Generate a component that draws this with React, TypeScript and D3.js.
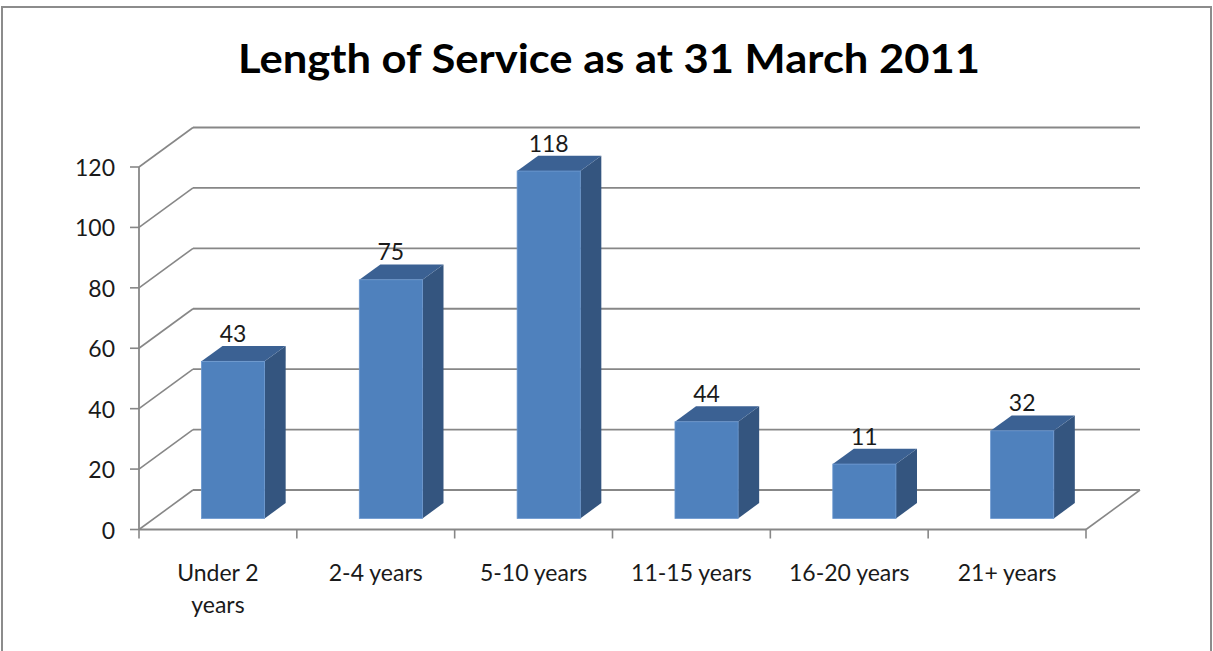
import React from "react";
import * as d3 from "d3";

const title = "Length of Service as at 31 March 2011";
const categories = ["Under 2 years", "2-4 years", "5-10 years", "11-15 years", "16-20 years", "21+ years"];
const categoryLines = [["Under 2", "years"], ["2-4 years"], ["5-10 years"], ["11-15 years"], ["16-20 years"], ["21+ years"]];
// bar heights as drawn against the value axis
const barValues = [52, 79, 115, 32, 18, 29];
// data labels as printed above the bars
const labelValues = [43, 75, 118, 44, 11, 32];
const yTicks = [0, 20, 40, 60, 80, 100, 120];

const FONT = "Lato, 'Open Sans', sans-serif";

export default function App() {
  const W = 1213, H = 651;
  const x0 = 139, x1 = 1086;
  const depthX = 54, depthY = -39.5;
  const x = d3.scaleBand<string>().domain(categories).range([x0, x1]).padding(0);
  const y = d3.scaleLinear().domain([0, 120]).range([529.5, 167]);
  const bw = x.bandwidth();
  const barW = bw * 0.4;
  const fFront = 0.28, fBack = 0.67;
  const gridColor = "#878787";
  const textColor = "#1a1a1a";

  const boundaries = categories.map((c) => x(c)!).concat([x1]);

  return (
    <svg width={W} height={H} style={{ position: "absolute", left: 0, top: 0, background: "#fff" }}>
      <rect x={2} y={7} width={1209} height={700} fill="#fff" stroke="#8c8c8c" strokeWidth={2} />
      <text x={609} y={73} textAnchor="middle" fontFamily={FONT} fontWeight="bold" fontSize={41}
        textLength={742} lengthAdjust="spacingAndGlyphs" fill="#000">{title}</text>

      {/* back wall gridlines + left wall diagonals */}
      {yTicks.map((t) => (
        <g key={t}>
          <line x1={x0 + depthX} x2={x1 + depthX} y1={y(t) + depthY} y2={y(t) + depthY} stroke={gridColor} strokeWidth={1.8} />
          <line x1={x0} y1={y(t)} x2={x0 + depthX} y2={y(t) + depthY} stroke={gridColor} strokeWidth={1.6} />
          <line x1={130} x2={x0} y1={y(t)} y2={y(t)} stroke={gridColor} strokeWidth={1.6} />
          <text x={115} y={y(t) + 9} textAnchor="end" fontFamily={FONT} fontSize={23} fill={textColor}>{t}</text>
        </g>
      ))}
      {/* floor */}
      <line x1={x0} x2={x1} y1={y(0)} y2={y(0)} stroke={gridColor} strokeWidth={1.8} />
      <line x1={x1} y1={y(0)} x2={x1 + depthX} y2={y(0) + depthY} stroke={gridColor} strokeWidth={1.6} />
      <line x1={x0} x2={x0} y1={y(120)} y2={y(0)} stroke={gridColor} strokeWidth={1.8} />
      {boundaries.map((bx, i) => (
        <line key={i} x1={bx} x2={bx} y1={y(0)} y2={y(0) + 9} stroke={gridColor} strokeWidth={1.6} />
      ))}

      {/* bars */}
      {categories.map((c, i) => {
        const cx = x(c)! + bw / 2;
        const fx = cx - barW / 2 + depthX * fFront;
        const fyB = y(0) + depthY * fFront;
        const h = y(0) - y(barValues[i]);
        const fyT = fyB - h;
        const ddx = depthX * (fBack - fFront);
        const ddy = depthY * (fBack - fFront);
        const top = `M${fx},${fyT} L${fx + barW},${fyT} L${fx + barW + ddx},${fyT + ddy} L${fx + ddx},${fyT + ddy} Z`;
        const side = `M${fx + barW},${fyT} L${fx + barW + ddx},${fyT + ddy} L${fx + barW + ddx},${fyB + ddy} L${fx + barW},${fyB} Z`;
        return (
          <g key={c}>
            <path d={side} fill="#34557f" />
            <path d={top} fill="#3b6193" />
            <rect x={fx} y={fyT} width={barW} height={h} fill="#4f81bd" stroke="#6a97cf" strokeWidth={0.8} />
            <text x={fx + barW / 2} y={fyT + ddy - 4} textAnchor="middle" fontFamily={FONT} fontSize={23} fill={textColor}>
              {labelValues[i]}
            </text>
          </g>
        );
      })}

      {/* category labels */}
      {categories.map((c, i) => (
        <text key={c} x={x(c)! + bw / 2} y={581} textAnchor="middle" fontFamily={FONT} fontSize={23} fill={textColor}>
          {categoryLines[i].map((ln, j) => (
            <tspan key={j} x={x(c)! + bw / 2} dy={j === 0 ? 0 : 32}>{ln}</tspan>
          ))}
        </text>
      ))}
    </svg>
  );
}
